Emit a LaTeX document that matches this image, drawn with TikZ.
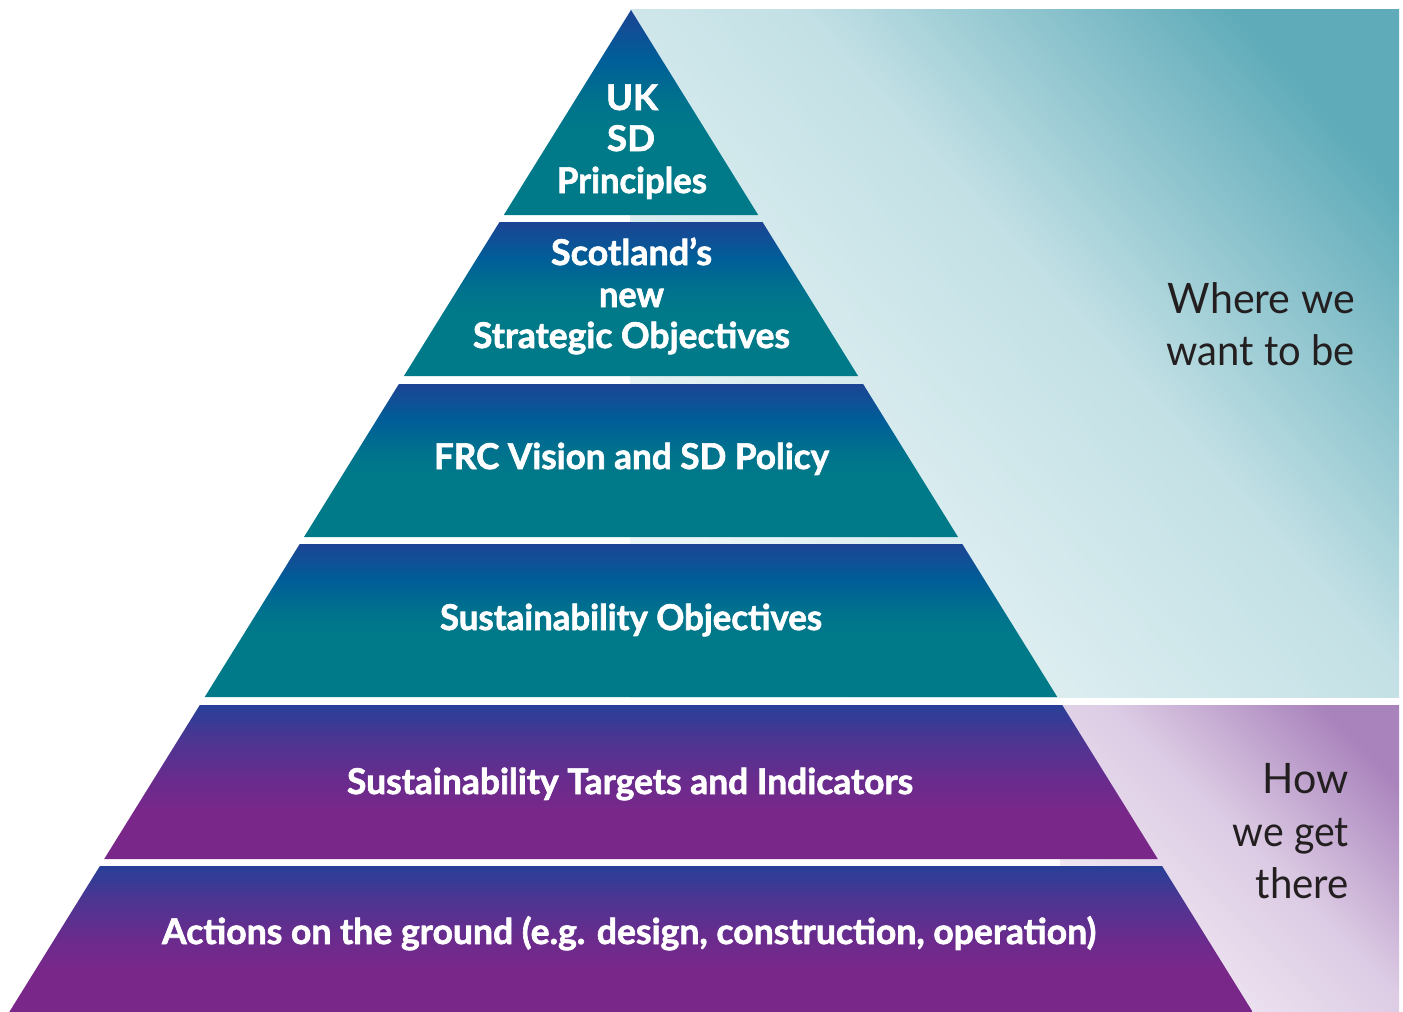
\documentclass[tikz,border=0pt]{standalone}
\usepackage{fontspec}
\setmainfont{Lato}
\newfontfamily\lblfont[BoldFeatures={FakeBold=1.8}]{Lato}
\usepackage{graphicx}
\newlength\fitlen
\newcommand\fitto[2]{\settowidth\fitlen{#2}\pgfmathsetmacro\fitsx{#1/\fitlen}\scalebox{\fitsx}[1]{#2}}
\definecolor{tealB}{HTML}{007A88}
\definecolor{tealM}{HTML}{00728D}
\definecolor{tealU}{HTML}{005E98}
\definecolor{blueT}{HTML}{1C4494}
\definecolor{purB}{HTML}{792889}
\definecolor{purM}{HTML}{6A2B8D}
\definecolor{purU}{HTML}{4E3592}
\definecolor{purT}{HTML}{283F97}
\definecolor{tpL}{HTML}{EDF6F7}
\definecolor{tpM}{HTML}{C2E0E5}
\definecolor{tpR}{HTML}{5FABB9}
\definecolor{ppL}{HTML}{F4EDF5}
\definecolor{ppM}{HTML}{DCCBE4}
\definecolor{ppR}{HTML}{A983BC}
\definecolor{sidetext}{HTML}{231F20}
\pgfdeclareverticalshading{tealshade}{100bp}{color(0bp)=(tealB); color(25bp)=(tealB); color(45bp)=(tealB); color(53bp)=(tealM); color(63bp)=(tealU); color(75bp)=(blueT); color(100bp)=(blueT)}
\pgfdeclareverticalshading{purshade}{100bp}{color(0bp)=(purB); color(25bp)=(purB); color(40bp)=(purB); color(50bp)=(purM); color(63bp)=(purU); color(75bp)=(purT); color(100bp)=(purT)}
\pgfdeclarehorizontalshading{tpshade}{100bp}{color(0bp)=(tpL); color(25bp)=(tpL); color(55bp)=(tpM); color(77bp)=(tpR); color(100bp)=(tpR)}
\pgfdeclarehorizontalshading{ppshade}{100bp}{color(0bp)=(ppL); color(25bp)=(ppL); color(54bp)=(ppM); color(77bp)=(ppR); color(100bp)=(ppR)}
\tikzset{
  tealayer/.style={shading=tealshade},
  purlayer/.style={shading=purshade},
  lbl/.style={anchor=base, text=white, inner sep=0pt, font=\fontsize{35.5}{40}\lblfont\bfseries},
  side/.style={anchor=base east, text=sidetext, inner sep=0pt, font=\fontsize{42}{50}\selectfont},
}
\begin{document}
\begin{tikzpicture}[x=1pt,y=-1pt]
\useasboundingbox (0,0) rectangle (1403,1012);
\fill[white] (0,0) rectangle (1403,1012);
% background panels
\shade[shading=tpshade, shading angle=42] (630,9) rectangle (1399,697);
\shade[shading=ppshade, shading angle=45] (1060,705) rectangle (1399,1012);
% pyramid layers
\shade[tealayer] (631,10) -- (758.2,215) -- (503.8,215) -- cycle;
\shade[tealayer] (499.5,222) -- (762.5,222) -- (858.1,376) -- (403.9,376) -- cycle;
\shade[tealayer] (398.9,384) -- (863.1,384) -- (958.0,537) -- (304.0,537) -- cycle;
\shade[tealayer] (299.7,544) -- (962.3,544) -- (1057.3,697) -- (204.7,697) -- cycle;
\shade[purlayer] (199.8,705) -- (1062.2,705) -- (1157.8,859) -- (104.2,859) -- cycle;
\shade[purlayer] (99.9,866) -- (1162.1,866) -- (1252.7,1012) -- (9.3,1012) -- cycle;
% labels
\node[lbl] (uk) at (632,110) {\fitto{52}{UK}};
\node[lbl] (sd) at (631,151) {\fitto{48}{SD}};
\node[lbl] (principles) at (632,193) {\fitto{150}{Principles}};
\node[lbl] (scotland) at (631.5,265) {\fitto{161}{Scotland’s}};
\node[lbl] (new) at (631.5,307) {\fitto{65}{new}};
\node[lbl] (strategic) at (631.5,348) {\fitto{317}{Strategic Objectives}};
\node[lbl] (frc) at (631.5,469) {\fitto{395}{FRC Vision and SD Policy}};
\node[lbl] (susobj) at (631,630) {\fitto{382}{Sustainability Objectives}};
\node[lbl] (targets) at (630,794) {\fitto{566}{Sustainability Targets and Indicators}};
\node[lbl] (actions) at (629,944) {\fitto{934}{Actions on the ground (e.g. design, construction, operation)}};
% side texts
\node[side] (where) at (1355,313) {\fitto{187}{Where we}};
\node[side] (want) at (1355,365) {\fitto{188}{want to be}};
\node[side] (how) at (1349,793) {\fitto{86}{How}};
\node[side] (weget) at (1349,846) {\fitto{116}{we get}};
\node[side] (there) at (1349,898) {\fitto{93}{there}};
\end{tikzpicture}
\end{document}
